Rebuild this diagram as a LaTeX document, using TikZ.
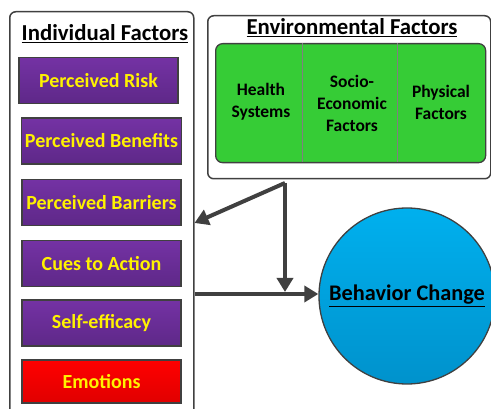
\documentclass[tikz,border=0pt]{standalone}
\usepackage{fontspec}
\setmainfont{Carlito}
\usetikzlibrary{arrows.meta}
\definecolor{boxpurple}{HTML}{7432A4}
\definecolor{boxpurpledark}{HTML}{5E2888}
\definecolor{envgreen}{HTML}{36CC36}
\definecolor{circblue}{HTML}{00B0EE}
\definecolor{circbluedark}{HTML}{0092CC}
\definecolor{edgegray}{HTML}{404040}
\begin{document}
\begin{tikzpicture}[x=1pt,y=-1pt,
    factor/.style={draw=edgegray, line width=1.3pt, top color=boxpurple, bottom color=boxpurpledark,
        minimum width=159pt, minimum height=46pt, text=yellow, font=\bfseries\fontsize{20}{23}\selectfont},
    title/.style={font=\bfseries\fontsize{22.8}{26}\selectfont},
    envtext/.style={align=center, font=\bfseries\fontsize{17.5}{22}\selectfont},
    frame/.style={draw=edgegray, line width=1.5pt, rounded corners=6pt},
    flow/.style={draw=edgegray, line width=4pt, -{Triangle[length=14pt,width=16pt]}}]
    \useasboundingbox (0,0) rectangle (491,409);
    % individual factors
    \node[frame, minimum width=184pt, minimum height=420pt, anchor=north west] (indiv) at (9,11) {};
    \node[title] (indivtitle) at (105,34) {\underline{Individual Factors}};
    \node[factor] (risk) at (98.5,80.5) {Perceived Risk};
    \node[factor] (benefits) at (101.5,141) {Perceived Benefits};
    \node[factor] (barriers) at (101.5,202.5) {Perceived Barriers};
    \node[factor] (cues) at (101.5,263.5) {Cues to Action};
    \node[factor] (efficacy) at (101.5,323) {Self-efficacy};
    \node[factor, top color=red, bottom color=red!88!black, minimum height=43pt] (emotions) at (101.5,381.5) {Emotions};
    % environmental factors
    \node[frame, minimum width=283pt, minimum height=163pt, anchor=north west] (env) at (207,15) {};
    \node[title] (envtitle) at (352,28) {\underline{Environmental Factors}};
    \node[draw=edgegray, line width=1.3pt, fill=envgreen, rounded corners=7pt,
        minimum width=270pt, minimum height=119pt, anchor=north west] (envblock) at (215,43) {};
    \draw[gray, line width=0.8pt] (302,43) -- (302,162);
    \draw[gray, line width=0.8pt] (397,43) -- (397,162);
    \node[envtext] (health) at (261,102) {Health\\Systems};
    \node[envtext] (socio) at (352,103) {Socio-\\Economic\\Factors};
    \node[envtext] (physical) at (441,102) {Physical\\Factors};
    % behavior change
    \node[circle, draw=edgegray, line width=1.3pt, top color=circblue, bottom color=circbluedark,
        minimum size=176pt, font=\bfseries\fontsize{22.3}{26}\selectfont] (change) at (407,296) {\underline{Behavior Change}};
    % arrows
    \coordinate (fork) at (285,183);
    \coordinate (meet) at (285,294);
    \draw[flow] (fork) -- (indiv.east |- 0,223);
    \draw[flow, shorten >=2pt] (fork) -- (meet);
    \draw[flow] (indiv.east |- meet) -- (change.west |- meet);
\end{tikzpicture}
\end{document}
